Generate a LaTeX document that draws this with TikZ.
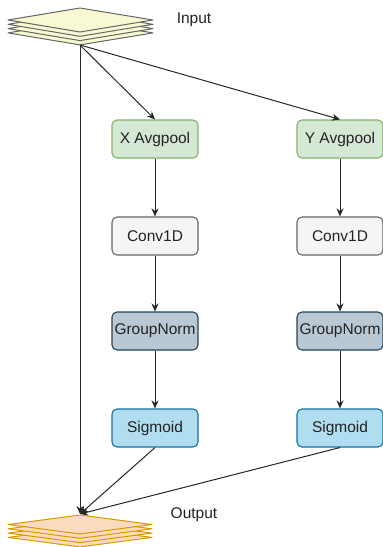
\documentclass[tikz,border=0pt]{standalone}
\usepackage{fontspec}
\setmainfont{Liberation Sans}
\usetikzlibrary{arrows.meta}

\definecolor{inFill}{HTML}{F8F8D2}
\definecolor{inLine}{HTML}{666666}
\definecolor{outFill}{HTML}{FCDABE}
\definecolor{outLine}{HTML}{D79B00}
\definecolor{poolFill}{HTML}{D5E8D4}
\definecolor{poolLine}{HTML}{82B366}
\definecolor{convFill}{HTML}{F5F5F5}
\definecolor{convLine}{HTML}{666666}
\definecolor{normFill}{HTML}{BAC8D3}
\definecolor{normLine}{HTML}{23445D}
\definecolor{sigFill}{HTML}{B1DDF0}
\definecolor{sigLine}{HTML}{10739E}
\definecolor{ink}{HTML}{222222}

\tikzset{
  stagebox/.style={draw, rounded corners=5pt, minimum width=86pt, minimum height=38pt,
    line width=1.1pt, inner sep=0pt, text=ink, font=\fontsize{15.5}{18}\selectfont},
  pool/.style={stagebox, fill=poolFill, draw=poolLine},
  conv/.style={stagebox, fill=convFill, draw=convLine},
  norm/.style={stagebox, fill=normFill, draw=normLine},
  sig/.style={stagebox, fill=sigFill, draw=sigLine},
  flow/.style={draw=black!85, line width=1pt, -{Stealth[length=8pt,width=7pt]}},
  caption/.style={text=ink, font=\fontsize{15.5}{18}\selectfont},
}

\begin{document}
\begin{tikzpicture}[x=1pt, y=-1pt]
\useasboundingbox (0,0) rectangle (383,547);

% input feature map: four stacked sheets
\foreach \k in {3,2,1,0}
  \draw[fill=inFill, draw=inLine, line width=1pt, line join=round]
    (80,{8+4.3*\k}) -- (153,{20+4.3*\k}) -- (80,{32+4.3*\k}) -- (8,{20+4.3*\k}) -- cycle;
\node[caption] (inlabel) at (194,20) {Input};

% output feature map: four stacked sheets
\foreach \k in {3,2,1,0}
  \draw[fill=outFill, draw=outLine, line width=1pt, line join=round]
    (80,{515+4.3*\k}) -- (152,{524.5+4.3*\k}) -- (80,{534+4.3*\k}) -- (8,{524.5+4.3*\k}) -- cycle;
\node[caption] (outlabel) at (194,515) {Output};

\coordinate (src) at (80,45);
\coordinate (dst) at (80,514);

% X branch
\node[pool] (xa) at (155,139) {X Avgpool};
\node[conv] (xc) at (155,236) {Conv1D};
\node[norm] (xn) at (155,331) {GroupNorm};
\node[sig]  (xs) at (155,428) {Sigmoid};

% Y branch
\node[pool] (ya) at (340,139) {Y Avgpool};
\node[conv] (yc) at (340,236) {Conv1D};
\node[norm] (yn) at (340,331) {GroupNorm};
\node[sig]  (ys) at (340,428) {Sigmoid};

% connectors
\draw[flow] (src) -- (dst);
\draw[flow] (src) -- (xa.north);
\draw[flow] (src) -- (ya.north);
\draw[flow] (xa) -- (xc);
\draw[flow] (xc) -- (xn);
\draw[flow] (xn) -- (xs);
\draw[flow] (ya) -- (yc);
\draw[flow] (yc) -- (yn);
\draw[flow] (yn) -- (ys);
\draw[flow] (xs.south) -- (dst);
\draw[flow] (ys.south) -- (dst);
\end{tikzpicture}
\end{document}
